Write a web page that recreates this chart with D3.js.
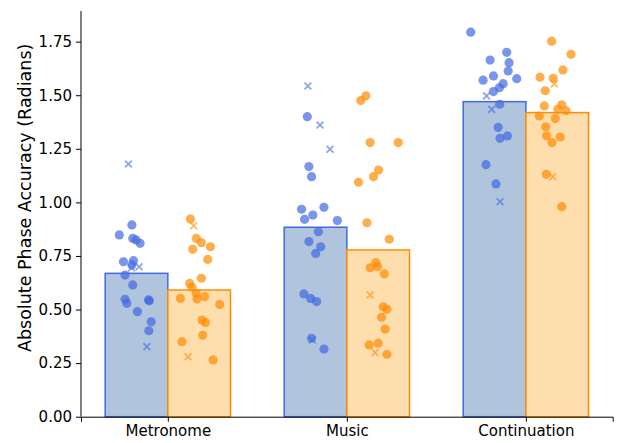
<!DOCTYPE html>
<html lang="en">

<head>
    <meta charset="UTF-8">
    <title>Phase accuracy</title>
    <style>
        body { margin: 0; background: white; }
        text { font-family: 'DejaVu Sans', sans-serif; }
    </style>
</head>

<body>
    <svg id="svg" width="617" height="443"></svg>

    <script src="https://d3js.org/d3.v7.min.js"></script>
    <script>
        const categories = ['Metronome', 'Music', 'Continuation']
        const blueMeans = [0.669, 0.884, 1.470]
        const orangeMeans = [0.591, 0.778, 1.419]
        const yTicks = [0, 0.25, 0.5, 0.75, 1.0, 1.25, 1.5, 1.75]

        // [category index, value, jitter] for each participant
        const blueDots = [
            [0, 0.895, -0.026], [0, 0.848, -0.096], [0, 0.832, -0.021], [0, 0.825, -0.002], [0, 0.809, 0.020],
            [0, 0.723, -0.073], [0, 0.728, -0.017], [0, 0.708, -0.026], [0, 0.661, -0.064], [0, 0.615, -0.021],
            [0, 0.548, -0.064], [0, 0.529, -0.054], [0, 0.545, 0.067], [0, 0.541, 0.072], [0, 0.490, 0.005],
            [0, 0.443, 0.082], [0, 0.401, 0.069],
            [1, 1.400, -0.046], [1, 1.167, -0.037], [1, 1.120, -0.022], [1, 0.968, -0.078], [1, 0.977, 0.047],
            [1, 0.941, -0.015], [1, 0.921, -0.061], [1, 0.915, 0.122], [1, 0.863, 0.016], [1, 0.817, -0.037],
            [1, 0.793, 0.029], [1, 0.762, 0.001], [1, 0.573, -0.065], [1, 0.552, -0.027], [1, 0.537, 0.006],
            [1, 0.366, -0.022], [1, 0.316, 0.047],
            [2, 1.794, -0.133], [2, 1.700, 0.068], [2, 1.664, -0.025], [2, 1.652, 0.081], [2, 1.613, 0.076],
            [2, 1.590, -0.006], [2, 1.570, -0.064], [2, 1.577, 0.124], [2, 1.554, 0.048], [2, 1.535, 0.027],
            [2, 1.517, -0.006], [2, 1.458, 0.029], [2, 1.350, 0.020], [2, 1.299, 0.031],
            [2, 1.310, 0.072], [2, 1.176, -0.048], [2, 1.086, 0.008]
        ]
        const blueCrosses = [
            [0, 1.179, -0.045], [0, 0.700, 0.015], [0, 0.694, -0.027], [0, 0.327, 0.058],
            [1, 1.543, -0.043], [1, 1.361, 0.025], [1, 1.248, 0.081], [1, 0.358, -0.018],
            [2, 1.497, -0.045], [2, 1.434, -0.016], [2, 1.003, 0.031]
        ]
        const orangeDots = [
            [0, 0.923, -0.049], [0, 0.832, -0.016], [0, 0.812, 0.012], [0, 0.781, -0.036], [0, 0.793, 0.063],
            [0, 0.734, 0.048], [0, 0.646, 0.012], [0, 0.622, -0.053], [0, 0.604, -0.040], [0, 0.576, -0.016],
            [0, 0.552, -0.105], [0, 0.549, -0.012], [0, 0.560, 0.031], [0, 0.524, 0.115], [0, 0.451, 0.016],
            [0, 0.439, 0.035], [0, 0.380, 0.020], [0, 0.350, -0.096], [0, 0.265, 0.078],
            [1, 1.497, -0.069], [1, 1.475, -0.097], [1, 1.279, -0.045], [1, 1.279, 0.112], [1, 1.151, 0.002],
            [1, 1.120, -0.026], [1, 1.094, -0.110], [1, 0.905, -0.063], [1, 0.828, 0.062], [1, 0.719, -0.013],
            [1, 0.695, -0.045], [1, 0.700, -0.003], [1, 0.666, 0.034], [1, 0.513, 0.028], [1, 0.501, 0.049],
            [1, 0.464, 0.019], [1, 0.409, 0.039], [1, 0.335, -0.050], [1, 0.343, 0.000], [1, 0.291, 0.049],
            [2, 1.752, -0.031], [2, 1.691, 0.077], [2, 1.618, 0.032], [2, 1.584, -0.096], [2, 1.579, -0.022],
            [2, 1.521, -0.067], [2, 1.450, -0.072], [2, 1.455, 0.025], [2, 1.434, 0.003], [2, 1.428, 0.049],
            [2, 1.403, -0.100], [2, 1.391, -0.011], [2, 1.353, -0.064], [2, 1.311, -0.059], [2, 1.305, 0.017],
            [2, 1.279, -0.029], [2, 1.131, -0.061], [2, 0.980, 0.025]
        ]
        const orangeCrosses = [
            [0, 0.891, -0.031], [0, 0.280, -0.062],
            [1, 0.568, -0.045], [1, 0.299, -0.017],
            [2, 1.553, -0.016], [2, 1.120, -0.025]
        ]

        const barWidth = 0.35
        const groups = [
            { means: blueMeans, dots: blueDots, crosses: blueCrosses, offset: -barWidth / 2,
              fill: '#b0c4de', edge: '#4169e1', point: '#4169e1' },
            { means: orangeMeans, dots: orangeDots, crosses: orangeCrosses, offset: barWidth / 2,
              fill: '#ffdead', edge: '#ff8c00', point: '#ff8c00' }
        ]

        const svg = d3.select('#svg')

        const xScale = d3.scaleLinear()
            .domain([-0.485, 2.485])
            .range([81, 612.7])
        const yScale = d3.scaleLinear()
            .domain([0, 1.893])
            .range([416.7, 11])

        groups.forEach(g => {
            svg.append('g')
                .selectAll('rect')
                .data(g.means)
                .enter()
                .append('rect')
                .attr('x', (d, i) => xScale(i + g.offset - barWidth / 2))
                .attr('y', d => yScale(d))
                .attr('width', xScale(barWidth) - xScale(0))
                .attr('height', d => yScale(0) - yScale(d))
                .attr('fill', g.fill)
                .attr('stroke', g.edge)
                .attr('stroke-width', 1.5)
        })

        groups.forEach(g => {
            svg.append('g')
                .selectAll('circle')
                .data(g.dots)
                .enter()
                .append('circle')
                .attr('cx', d => xScale(d[0] + g.offset + d[2]))
                .attr('cy', d => yScale(d[1]))
                .attr('r', 4.6)
                .attr('fill', g.point)
                .attr('opacity', 0.7)

            const s = 3.4
            svg.append('g')
                .selectAll('path')
                .data(g.crosses)
                .enter()
                .append('path')
                .attr('d', d => {
                    const cx = xScale(d[0] + g.offset + d[2])
                    const cy = yScale(d[1])
                    return `M${cx - s},${cy - s}L${cx + s},${cy + s}M${cx - s},${cy + s}L${cx + s},${cy - s}`
                })
                .attr('stroke', g.point)
                .attr('stroke-width', 1.8)
                .attr('opacity', 0.6)
                .attr('fill', 'none')
        })

        // axes
        const yAxis = svg.append('g')
            .attr('transform', `translate(${xScale(-0.485)},0)`)
            .call(d3.axisLeft(yScale).tickValues(yTicks).tickFormat(d3.format('.2f')).tickSize(5).tickPadding(4))
        yAxis.select('.domain').attr('d', `M0,${yScale(1.893)}V${yScale(0)}`)

        const xAxis = svg.append('g')
            .attr('transform', `translate(0,${yScale(0)})`)
            .call(d3.axisBottom(xScale).tickValues([0, 1, 2]).tickFormat(i => categories[i]).tickSize(5).tickPadding(4))

        svg.selectAll('.tick text')
            .style('font-size', '15px')
            .attr('fill', '#000')
        svg.selectAll('.domain, .tick line')
            .attr('stroke', '#000')
            .attr('stroke-width', 1)

        svg.append('text')
            .attr('transform', `translate(25,${(yScale(0) + yScale(1.893)) / 2 - 16}) rotate(-90)`)
            .attr('text-anchor', 'middle')
            .attr('dominant-baseline', 'central')
            .style('font-size', '17.5px')
            .text('Absolute Phase Accuracy (Radians)')
    </script>
</body>

</html>
